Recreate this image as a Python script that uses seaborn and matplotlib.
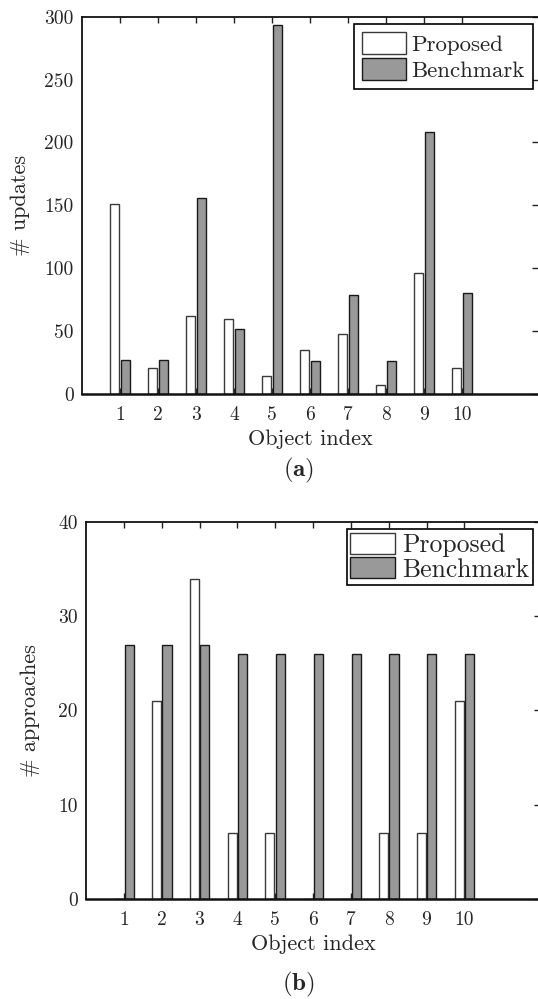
import matplotlib
matplotlib.use("Agg")
import matplotlib.pyplot as plt
import seaborn as sns
import pandas as pd

# ---- data ----
objects = [1, 2, 3, 4, 5, 6, 7, 8, 9, 10]
methods = ["Proposed", "Benchmark"]
updates_proposed = [151, 21, 62, 60, 14, 35, 48, 7, 96, 21]
updates_benchmark = [27, 27, 156, 52, 293, 26, 79, 26, 208, 80]
approaches_proposed = [0, 21, 34, 7, 7, 0, 0, 7, 7, 21]
approaches_benchmark = [27, 27, 27, 26, 26, 26, 26, 26, 26, 26]
yticks_a = [0, 50, 100, 150, 200, 250, 300]
yticks_b = [0, 10, 20, 30, 40]

sns.set_style("white")
plt.rcParams["font.family"] = ["cmr10", "DejaVu Serif"]
plt.rcParams["mathtext.fontset"] = "cm"
plt.rcParams["axes.formatter.use_mathtext"] = True
plt.rcParams["axes.unicode_minus"] = False


def make_df(p, b):
    return pd.DataFrame({
        "obj": objects * 2,
        "val": list(p) + list(b),
        "method": [methods[0]] * len(objects) + [methods[1]] * len(objects),
    })


fig = plt.figure(figsize=(5.38, 9.99), dpi=100)
ax_a = fig.add_axes([0.1524, 0.6056, 0.8476, 0.3777])
ax_b = fig.add_axes([0.1599, 0.1004, 0.8439, 0.3768])

panels = [
    dict(ax=ax_a, df=make_df(updates_proposed, updates_benchmark), yt=yticks_a,
         ylabel="# updates", tag=r"$\mathbf{(a)}$", ylx=-0.114, lfs=16.5,
         anchor=(0.989, 0.981), tag_y=0.5295, hh=1.1, hl=1.92, ls=0.15, bp=0.35),
    dict(ax=ax_b, df=make_df(approaches_proposed, approaches_benchmark), yt=yticks_b,
         ylabel="# approaches", tag=r"$\mathbf{(b)}$", ylx=-0.101, lfs=18.5,
         anchor=(0.984, 0.983), tag_y=0.0145, hh=0.9, hl=1.75, ls=0.0, bp=0.15),
]

for p in panels:
    ax, df, yt = p["ax"], p["df"], p["yt"]
    sns.barplot(data=df, x="obj", y="val", hue="method", hue_order=methods,
                native_scale=True, width=0.56, gap=0.14,
                palette=["white", "#999999"], edgecolor="black",
                linewidth=1.0, saturation=1, errorbar=None, ax=ax)
    cont_p, cont_b = ax.containers[0], ax.containers[1]
    for bar in cont_p:
        bar.set_edgecolor("#3a3a3a")
        bar.set_linewidth(1.0)
    for bar in cont_b:
        bar.set_edgecolor("#1a1a1a")
        bar.set_linewidth(1.0)
    ax.set_xlim(0, 12)
    ax.set_ylim(yt[0], yt[-1])
    ax.set_xticks(objects)
    ax.set_xticklabels([str(o) for o in objects])
    ax.set_yticks(yt)
    ax.set_yticklabels([str(v) for v in yt])
    ax.tick_params(axis="x", direction="in", top=True, bottom=True, length=4,
                   width=1.0, labelsize=14, pad=9, color="#222222")
    ax.tick_params(axis="y", direction="in", left=False, right=True, length=4,
                   width=1.0, labelsize=14, pad=6, color="#222222")
    for s in ["top", "left", "bottom"]:
        ax.spines[s].set_visible(True)
        ax.spines[s].set_color("#111111")
        ax.spines[s].set_linewidth(1.3)
    ax.spines["bottom"].set_linewidth(1.8)
    ax.spines["right"].set_visible(False)
    ax.set_xlabel("Object index", fontsize=16, labelpad=4)
    ax.set_ylabel(p["ylabel"], fontsize=16)
    ax.yaxis.set_label_coords(p["ylx"], 0.5)
    leg = ax.get_legend()
    if leg is not None:
        leg.remove()
    leg = ax.legend([cont_p, cont_b], methods, loc="upper right",
                    bbox_to_anchor=p["anchor"], borderaxespad=0,
                    fontsize=p["lfs"], frameon=True, fancybox=False,
                    framealpha=1, edgecolor="black", handlelength=p["hl"],
                    handleheight=p["hh"], handletextpad=0.25,
                    borderpad=p["bp"], labelspacing=p["ls"])
    leg.get_frame().set_linewidth(1.2)
    fig.text(0.554, p["tag_y"], p["tag"], fontsize=18, ha="center", va="center")

fig.savefig("out.png", dpi=100)
